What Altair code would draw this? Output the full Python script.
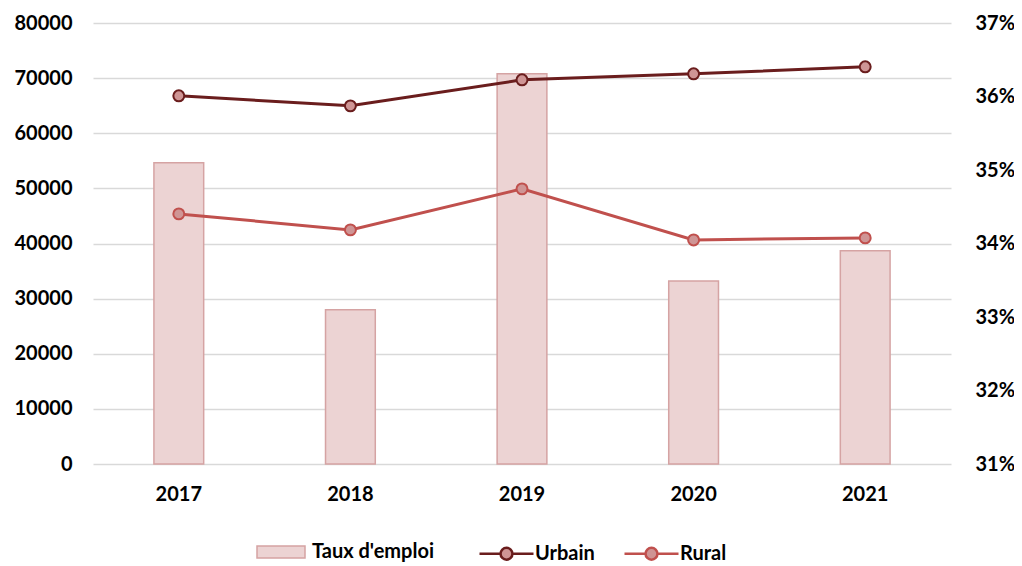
import altair as alt
import pandas as pd

years = ["2017", "2018", "2019", "2020", "2021"]
taux = [0.3510, 0.3310, 0.3631, 0.3349, 0.3390]
urbain = [66790, 64970, 69690, 70780, 72050]
rural = [45370, 42470, 49910, 40650, 41020]

FONT = "Lato"
df_bar = pd.DataFrame({"year": years, "taux": taux, "label": ["Taux d'emploi"] * len(years)})
df_line = pd.DataFrame({
    "year": years * 2,
    "value": urbain + rural,
    "series": ["Urbain"] * len(years) + ["Rural"] * len(years),
})

xenc = alt.X(
    "year:N",
    title=None,
    scale=alt.Scale(paddingInner=0.71, paddingOuter=0.355),
    axis=alt.Axis(labelAngle=0, domain=False, ticks=False, labelPadding=20,
                  labelFont=FONT, labelFontSize=20, labelFontWeight="bold", labelColor="#000000"),
)

bars = alt.Chart(df_bar).mark_bar(stroke="#d5a3a3", strokeWidth=1.5).encode(
    x=xenc,
    y=alt.Y("taux:Q", title=None,
            scale=alt.Scale(domain=[0.31, 0.37], zero=False, nice=False),
            axis=alt.Axis(orient="right", format=".0%", values=[0.31, 0.32, 0.33, 0.34, 0.35, 0.36, 0.37],
                          grid=False, domain=False, ticks=False, labelPadding=24,
                          labelFont=FONT, labelFontSize=20, labelFontWeight="bold", labelColor="#000000")),
    y2=alt.Y2(datum=0.31),
    fill=alt.Fill("label:N", scale=alt.Scale(domain=["Taux d'emploi"], range=["#ecd3d3"]),
                  legend=alt.Legend(title=None, orient="none", legendX=163, legendY=504,
                                    symbolType="M-1,-0.25H1V0.25H-1Z", symbolSize=2304,
                                    symbolStrokeColor="#d5a3a3", symbolStrokeWidth=1.5,
                                    labelFont=FONT, labelFontSize=20, labelFontWeight="bold",
                                    labelColor="#000000", labelOffset=6)),
)

stroke_scale = alt.Scale(domain=["Urbain", "Rural"], range=["#6a1d1d", "#c0504d"])
yleft = alt.Y("value:Q", title=None,
              scale=alt.Scale(domain=[0, 80000], nice=False),
              axis=alt.Axis(orient="left", values=list(range(0, 80001, 10000)), format="d",
                            grid=True, gridColor="#d9d9d9", gridWidth=1.5,
                            domain=False, ticks=False, labelPadding=21,
                            labelFont=FONT, labelFontSize=20, labelFontWeight="bold", labelColor="#000000"))

lines = alt.Chart(df_line).mark_line(strokeWidth=3).encode(
    x=xenc,
    y=yleft,
    stroke=alt.Stroke("series:N", scale=stroke_scale, sort=["Urbain", "Rural"],
                      legend=alt.Legend(title=None, orient="none", legendX=385, legendY=502,
                                        direction="horizontal", columnPadding=24,
                                        symbolType="M-1,0L-0.22,0M0.22,0L1,0M-0.22,0A0.22,0.22,0,1,1,0.22,0A0.22,0.22,0,1,1,-0.22,0Z",
                                        symbolSize=2916, symbolStrokeWidth=2.5, symbolFillColor="#cf9494",
                                        labelFont=FONT, labelFontSize=20, labelFontWeight="bold",
                                        labelColor="#000000", labelOffset=0)),
    detail="series:N",
)

points = alt.Chart(df_line).mark_point(filled=True, size=120, fill="#cf9595", strokeWidth=2, opacity=1).encode(
    x=xenc,
    y=yleft,
    stroke=alt.Stroke("series:N", scale=stroke_scale, legend=None),
)

chart = alt.layer(bars, alt.layer(lines, points)).resolve_scale(y="independent").properties(
    width=858, height=441,
    padding={"left": 85, "top": 15, "right": 63, "bottom": 102},
    autosize=alt.AutoSizeParams(type="none"),
).configure_view(stroke=None)

chart.save("out.html", embed_options={"renderer": "svg", "actions": False})
